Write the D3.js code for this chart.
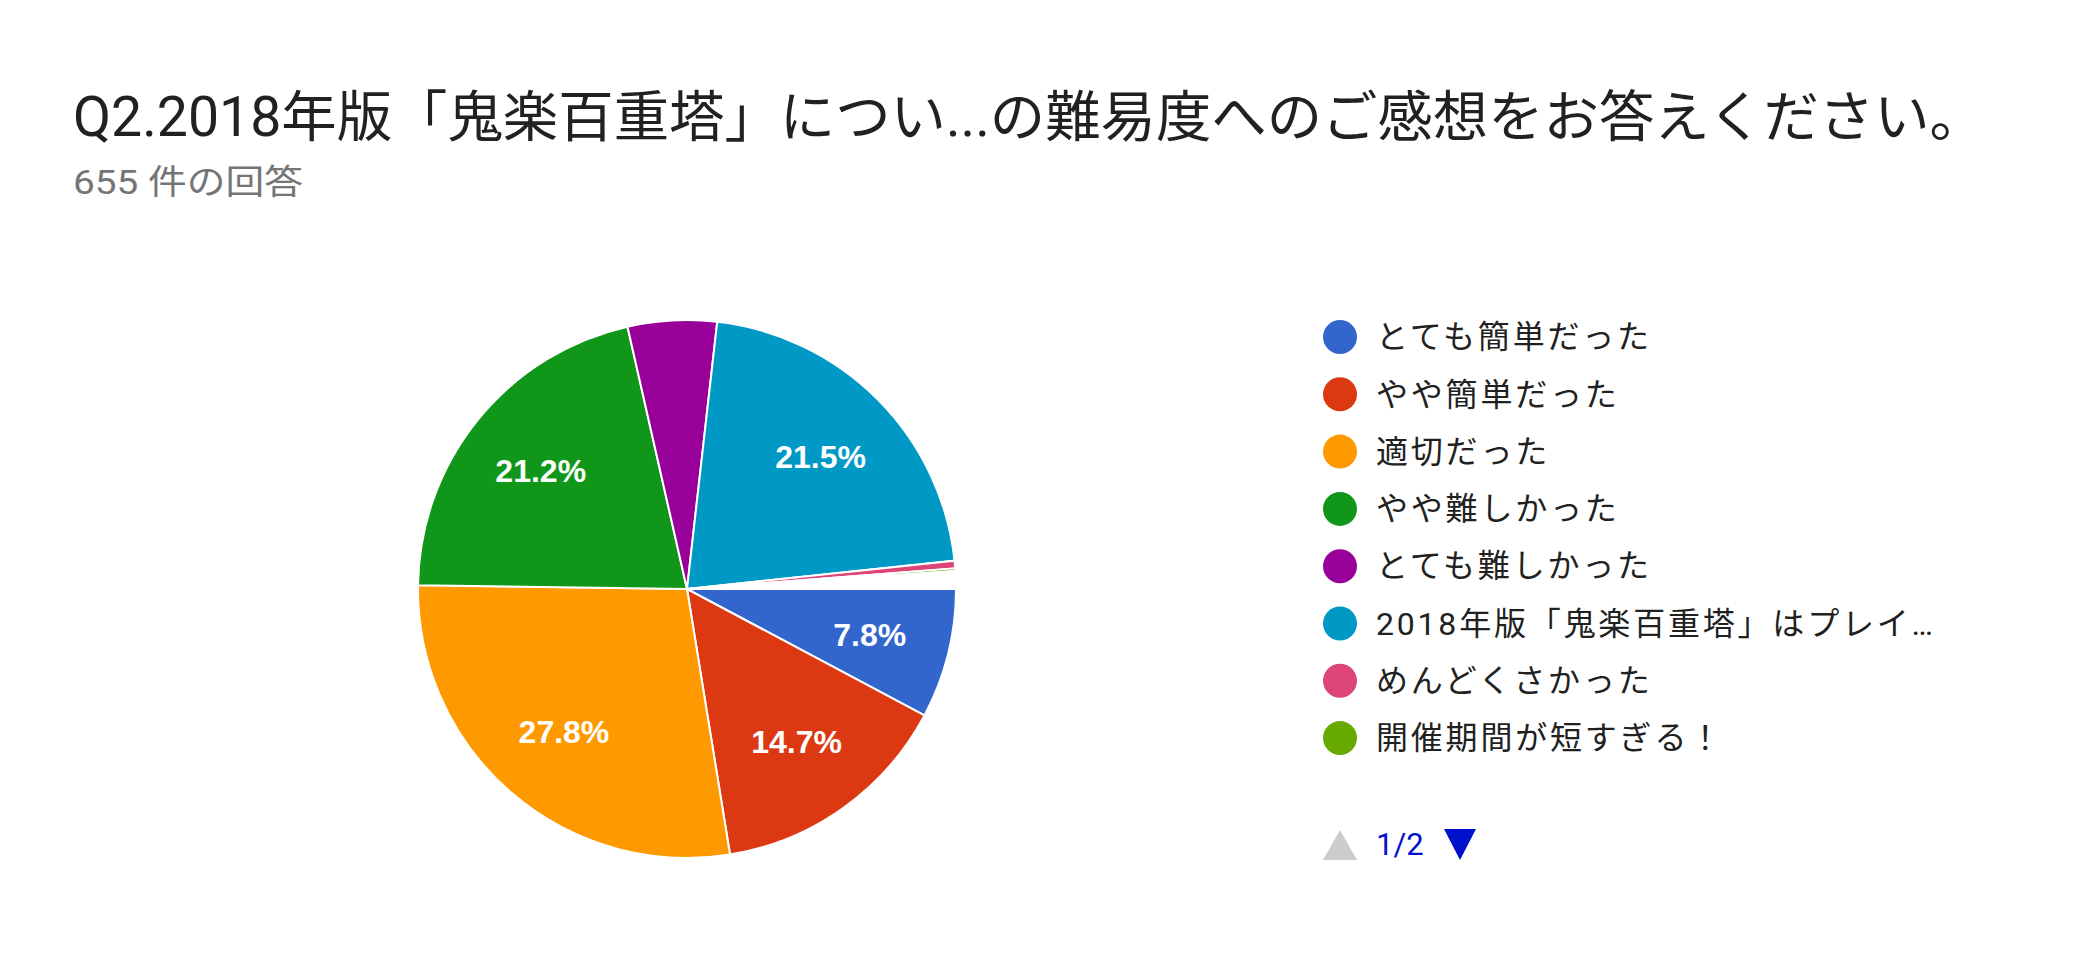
<!DOCTYPE html>
<html><head><meta charset="utf-8">
<script src="https://cdn.jsdelivr.net/npm/d3@7"></script>
<style>body{margin:0;background:#fff;font-family:Roboto,"Noto Sans CJK JP",sans-serif}</style>
</head><body>
<div class="chart"></div>
<script>
// Chart data
var categories = ["とても簡単だった","やや簡単だった","適切だった","やや難しかった","とても難しかった","2018年版「鬼楽百重塔」はプレイ…","めんどくさかった","開催期間が短すぎる！","その他"];
var counts = [51, 96, 182, 139, 35, 141, 3, 1, 7];
var colors = ["#3366cc","#dc3912","#ff9900","#109618","#990099","#0099c6","#dd4477","#66aa00","#ffffff"];
var legendCount = 8;

var svgWidth = 2088, svgHeight = 963;
var svg = d3.select(".chart").append("svg").attr("width", svgWidth).attr("height", svgHeight);

svg.append("text").attr("x", 73).attr("y", 136).attr("font-size", 55).attr("fill", "#212121")
  .attr("textLength", 1912).attr("lengthAdjust", "spacingAndGlyphs")
  .text("Q2.2018年版「鬼楽百重塔」につい...の難易度へのご感想をお答えください。");
svg.append("text").attr("x", 73).attr("y", 194).attr("font-size", 34).attr("fill", "#757575")
  .attr("textLength", 230).attr("lengthAdjust", "spacingAndGlyphs")
  .text("655 件の回答");

var total = d3.sum(counts);
var radius = 269;
var pieGroup = svg.append("g").attr("transform", "translate(687, 589)");
var pie = d3.pie().sort(null).startAngle(Math.PI / 2).endAngle(Math.PI / 2 + 2 * Math.PI);
var arc = d3.arc().innerRadius(0).outerRadius(radius);
var labelArc = d3.arc().innerRadius(radius * 0.7).outerRadius(radius * 0.7);
var arcs = pie(counts);

pieGroup.selectAll("path").data(arcs).enter().append("path")
  .attr("d", arc).attr("fill", (d, i) => colors[i])
  .attr("stroke", "#fff").attr("stroke-width", 2);

pieGroup.selectAll("text").data(arcs.filter(d => d.value / total > 0.06)).enter().append("text")
  .attr("transform", d => `translate(${labelArc.centroid(d)})`)
  .attr("text-anchor", "middle").attr("dy", "0.35em")
  .attr("font-family", "Liberation Sans, Arial, sans-serif").attr("font-weight", "bold")
  .attr("font-size", 32).attr("fill", "#fff")
  .text(d => (d.value / total * 100).toFixed(1) + "%");

var legend = svg.append("g").attr("transform", "translate(1340, 337)");
var rows = legend.selectAll("g").data(categories.slice(0, legendCount)).enter().append("g")
  .attr("transform", (d, i) => `translate(0, ${i * 57.3})`);
rows.append("circle").attr("r", 17).attr("fill", (d, i) => colors[i]);
rows.append("text").attr("x", 36).attr("dy", "0.35em").attr("font-size", 32).attr("fill", "#212121")
  .attr("letter-spacing", 2.8).text(d => d);

// pager
var pager = svg.append("g").attr("transform", "translate(1340, 844)");
pager.append("path").attr("d", "M-17,16L0,-14L17,16Z").attr("fill", "#cccccc");
pager.append("text").attr("x", 36).attr("dy", "0.35em").attr("font-size", 31).attr("fill", "#0011cc").text("1/2");
pager.append("path").attr("d", "M104,-15L136,-15L120,16Z").attr("fill", "#0011cc");
</script>
</body></html>
